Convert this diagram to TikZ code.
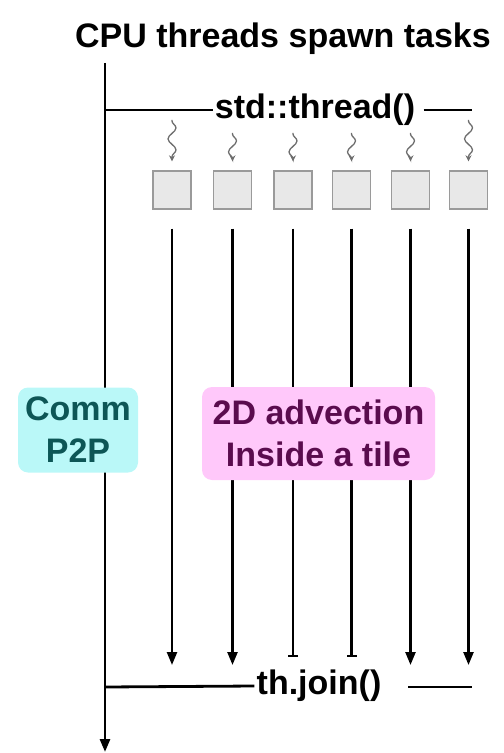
\documentclass[tikz,border=0pt]{standalone}
\usepackage{fontspec}
\setmainfont{Liberation Sans}
\usetikzlibrary{arrows.meta,decorations.pathmorphing}
\definecolor{sqfill}{HTML}{E8E8E8}
\definecolor{sqdraw}{HTML}{9A9A9A}
\definecolor{squigc}{HTML}{6E6E6E}
\definecolor{commfill}{HTML}{BAF8F8}
\definecolor{commtext}{HTML}{0D5656}
\definecolor{advfill}{HTML}{FFC8FA}
\definecolor{advtext}{HTML}{5A0C4E}
\tikzset{
  lbl/.style={font=\fontsize{17}{21}\selectfont\bfseries, inner sep=1pt},
  mainline/.style={line width=1.4pt, black},
  thr/.style={line width=1.2pt, black},
  tip/.style={-{Triangle[width=5pt,length=6.5pt]}},
  bartip/.style={-{Bar[width=5pt]}},
  task/.style={draw=sqdraw, fill=sqfill, line width=0.7pt, minimum size=19pt, inner sep=0pt},
  squig/.style={draw=squigc, line width=0.65pt, decorate,
    decoration={snake, segment length=11pt, amplitude=2pt, pre length=0.5pt, post length=2.5pt},
    -{Stealth[length=3pt,width=3pt]}, shorten >=4.5pt},
  box/.style={rounded corners=5pt, inner sep=0pt, align=center,
    font=\fontsize{17}{21}\selectfont\bfseries}
}
\begin{document}
\begin{tikzpicture}[x=0.5pt,y=-0.5pt]
\useasboundingbox (0,0) rectangle (503,753);
% title
\node[lbl] (title) at (283,38.5) {CPU threads spawn tasks};
% main thread
\coordinate (mtop) at (105,63);
\coordinate (mbot) at (105,752);
\coordinate (mspawn) at (105,110);
\coordinate (mjoin) at (105,687);
\draw[mainline,tip] (mtop) -- (mbot);
% spawn
\node[lbl] (spawn) at (315,110) {std::thread()};
\coordinate (spr) at (472,110);
\draw[mainline] (mspawn) -- (spawn.west);
\draw[mainline] ([xshift=3pt]spawn.east) -- (spr);
% tasks
\foreach \i/\x/\t in {1/172/120,2/232.5/133,3/293/133,4/351.5/133,5/410.5/133,6/468.5/120}{
  \node[task] (s\i) at (\x,190) {};
  \coordinate (q\i) at (\x,\t);
  \draw[squig] (q\i) -- (s\i.north);
}
% thread lines
\foreach \i/\x in {1/172,2/232.5,5/410.5,6/468.5}{
  \coordinate (e\i) at (\x,665);
  \draw[thr,tip,shorten <=9.5pt] (s\i.south) -- (e\i);
}
\foreach \i/\x in {3/293,4/351.5}{
  \coordinate (e\i) at (\x,657);
  \draw[thr,bartip,shorten <=9.5pt] (s\i.south) -- (e\i);
}
% boxes
\node[box, fill=commfill, text=commtext, minimum width=60pt, minimum height=42.5pt] (comm) at (78,430) {Comm\\P2P};
\node[box, fill=advfill, text=advtext, minimum width=116.5pt, minimum height=46.5pt] (adv) at (318.5,433.5) {2D advection\\Inside a tile};
% join
\node[lbl] (join) at (319,686) {th.join()};
\coordinate (jr1) at (408,687);
\coordinate (jr2) at (472,687);
\draw[mainline] (mjoin) -- (join.west);
\draw[mainline] (jr1) -- (jr2);
\end{tikzpicture}
\end{document}
